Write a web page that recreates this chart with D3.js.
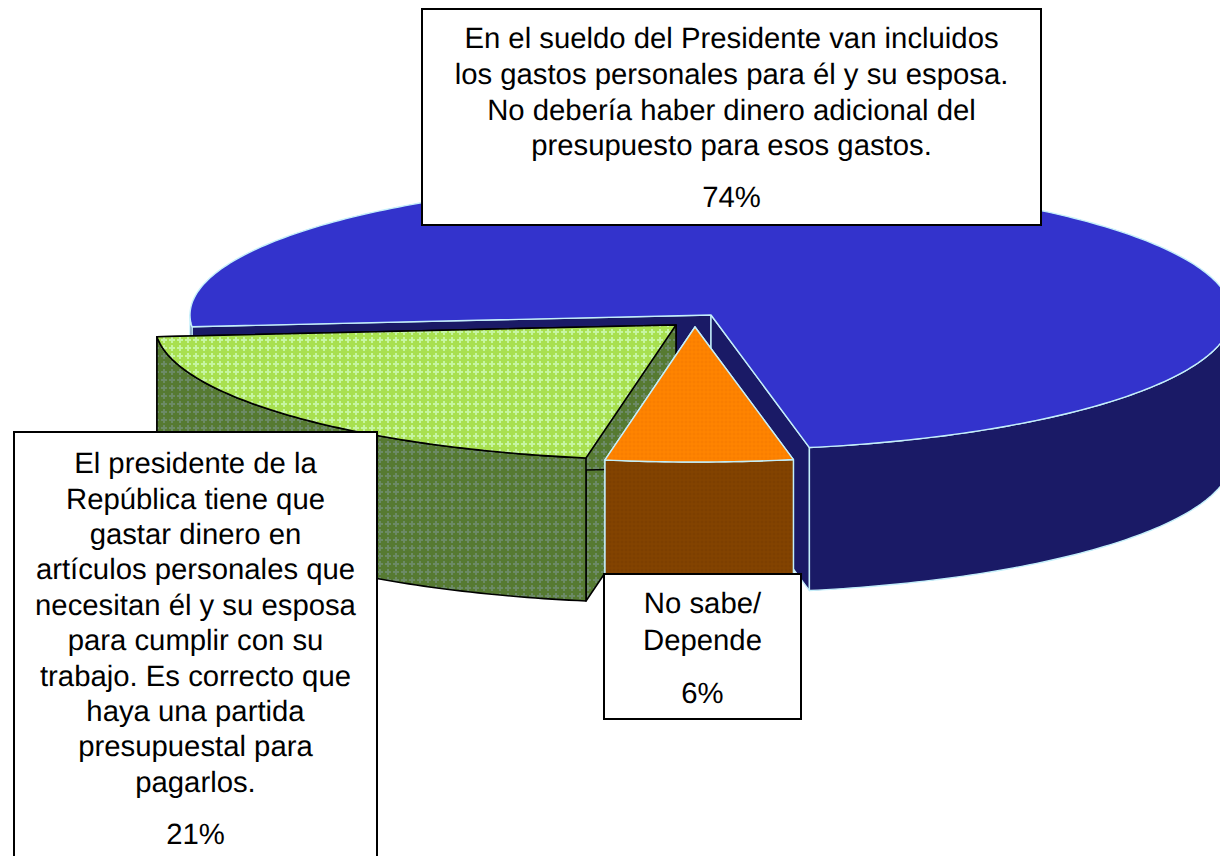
<!DOCTYPE html>
<html>
<head>
<meta charset="UTF-8">
<title>Gastos personales del Presidente</title>
<script src="https://d3js.org/d3.v7.min.js"></script>
<style>
  html, body {margin: 0; padding: 0; background: #fff;}
  svg {display: block;}
  text {font-family: "Liberation Sans", Arial, sans-serif; font-size: 29.3px; fill: #000; text-anchor: middle; text-rendering: geometricPrecision;}
</style>
</head>
<body>
<div id="chart"></div>
<script>
// data, in drawing order round the pie (clockwise)
var categories = ["gastos incluidos", "no sabe", "partida presupuestal"];
var shares = [73.9, 5.83, 21]; // measured off the wedges, the labels round them
var labelLines = [
  ["En el sueldo del Presidente van incluidos",
   "los gastos personales para él y su esposa.",
   "No debería haber dinero adicional del",
   "presupuesto para esos gastos."],
  ["No sabe/", "Depende"],
  ["El presidente de la", "República tiene que", "gastar dinero en",
   "artículos personales que", "necesitan él y su esposa",
   "para cumplir con su", "trabajo. Es correcto que",
   "haya una partida", "presupuestal para", "pagarlos."]
];

var width = 1220, height = 856;
var rx = 521, ry = 135, depth = 143;
var startDeg = 265;

// where each exploded slice has its apex on the page
var apex = [[711, 315], [695, 327], [676, 325]];
var topFill = ["#3333cc", "url(#orangeTop)", "url(#greenTop)"];
var sideFill = ["#1a1a66", "url(#orangeSide)", "url(#greenSide)"];
var edge = ["#c4effa", "#c4effa", "#000"];

// label boxes: left, top, right, bottom, y of first line centre, line pitch, y of % centre
var boxes = [
  {l: 422, t: 9, r: 1041, b: 225, first: 38, pitch: 35.7, pct: 197},
  {l: 604, t: 574, r: 801, b: 719, first: 603, pitch: 37, pct: 693},
  {l: 14, t: 432, r: 377, b: 880, first: 463, pitch: 35.4, pct: 834}
];

var svg = d3.select("#chart").append("svg")
  .attr("width", width)
  .attr("height", height)
  .attr("viewBox", "0 0 " + width + " " + height);

var defs = svg.append("defs");
function plusPattern(id, base, dot, scale) {
  var p = defs.append("pattern")
    .attr("id", id)
    .attr("patternUnits", "userSpaceOnUse")
    .attr("patternTransform", "scale(" + scale + ")")
    .attr("width", 8)
    .attr("height", 8);
  p.append("rect").attr("width", 8).attr("height", 8).attr("fill", base);
  p.append("path").attr("d", "M3 1h2v2h2v2h-2v2h-2v-2h-2v-2h2z").attr("fill", dot);
}
plusPattern("greenTop", "#a8e050", "#c6f5a2", 1);
plusPattern("greenSide", "#567a32", "#6c8a66", 1);
plusPattern("orangeTop", "#ff8400", "#f87c00", 0.5);
plusPattern("orangeSide", "#834300", "#7b3d00", 0.5);

var pie = d3.pie()
  .sort(null)
  .startAngle(startDeg * Math.PI / 180)
  .endAngle((startDeg + 360) * Math.PI / 180);
var slices = pie(shares);

var line = d3.line();
var pctFormat = d3.format(".0f");

// unit circle -> page, for one slice
function projector(i, drop) {
  var xs = d3.scaleLinear().domain([-1, 1]).range([apex[i][0] - rx, apex[i][0] + rx]);
  var ys = d3.scaleLinear().domain([-1, 1]).range([apex[i][1] + drop - ry, apex[i][1] + drop + ry]);
  return function (a) { return [xs(Math.sin(a)), ys(-Math.cos(a))]; };
}

function arcPoints(i, a0, a1, drop) {
  var n = Math.max(2, Math.ceil(Math.abs(a1 - a0) * 60));
  var p = projector(i, drop);
  return d3.range(n + 1).map(function (k) { return p(a0 + (a1 - a0) * k / n); });
}

// flat wedge seen from above
function topPath(i) {
  var s = slices[i];
  return line([apex[i]].concat(arcPoints(i, s.startAngle, s.endAngle, 0))) + "Z";
}

// straight cut face from the apex out to angle a
function cutPath(i, a) {
  var o = projector(i, 0)(a), b = apex[i];
  return line([b, o, [o[0], o[1] + depth], [b[0], b[1] + depth]]) + "Z";
}

// the curved wall, only where it faces the viewer
function wallPath(i, a0, a1) {
  var upper = arcPoints(i, a0, a1, 0);
  var lower = arcPoints(i, a1, a0, depth);
  return line(upper.concat(lower)) + "Z";
}

function clampFront(s) {
  // front half of the rim: 90deg..270deg, shifted by whole turns
  var out = [];
  [0, 2 * Math.PI].forEach(function (turn) {
    var a0 = Math.max(s.startAngle, Math.PI / 2 + turn);
    var a1 = Math.min(s.endAngle, 3 * Math.PI / 2 + turn);
    if (a1 > a0) out.push([a0, a1]);
  });
  return out;
}

// blue first, then green, orange last: that is the front to back order
[0, 2, 1].forEach(function (i) {
  var s = slices[i];
  var g = svg.append("g").attr("class", "slice").attr("data-name", categories[i]);
  var style = function (sel, fill) {
    return sel.attr("fill", fill)
      .attr("stroke", edge[i])
      .attr("stroke-width", i == 2 ? 1.6 : 1.4)
      .attr("stroke-linejoin", "round");
  };
  style(g.append("path").attr("d", cutPath(i, s.startAngle)), sideFill[i]);
  style(g.append("path").attr("d", cutPath(i, s.endAngle)), sideFill[i]);
  clampFront(s).forEach(function (r) {
    style(g.append("path").attr("d", wallPath(i, r[0], r[1])), sideFill[i]);
  });
  style(g.append("path").attr("d", topPath(i)), topFill[i]);
});

// label boxes
boxes.forEach(function (b, i) {
  var g = svg.append("g").attr("class", "label");
  g.append("rect")
    .attr("x", b.l)
    .attr("y", b.t)
    .attr("width", b.r - b.l)
    .attr("height", b.b - b.t)
    .attr("fill", "#fff")
    .attr("stroke", "#000")
    .attr("stroke-width", 2);
  var cx = (b.l + b.r) / 2;
  labelLines[i].forEach(function (t, k) {
    g.append("text")
      .attr("x", cx)
      .attr("y", b.first + k * b.pitch)
      .attr("dy", "0.35em")
      .text(t);
  });
  g.append("text")
    .attr("x", cx)
    .attr("y", b.pct)
    .attr("dy", "0.35em")
    .text(pctFormat(shares[i]) + "%");
});
</script>
</body>
</html>
